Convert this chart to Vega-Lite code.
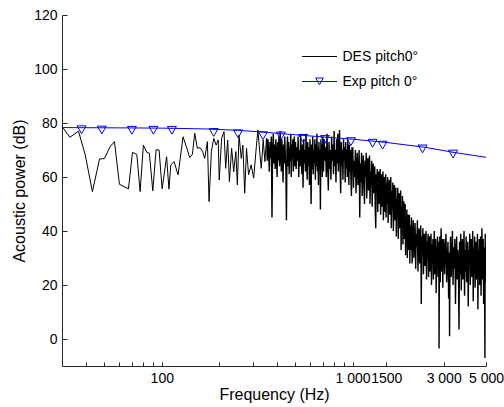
{
"$schema": "https://vega.github.io/schema/vega-lite/v6.json",
"width": 424, "height": 351,
"autosize": {"type": "none"},
"padding": {"left": 62, "top": 15, "right": 18, "bottom": 41},
"background": "white",
"config": {
  "view": {"stroke": null},
  "font": "Liberation Sans",
  "axisX": {"grid": false, "tickSize": -4, "labelPadding": 9, "domainColor": "#262626", "tickColor": "#262626", "labelColor": "black", "labelFontSize": 14, "labelFont": "Liberation Sans", "titleFont": "Liberation Sans", "titleFontSize": 16, "titleFontWeight": "normal", "titleColor": "black", "labelOverlap": false, "labelFlush": false, "labelBound": false, "titleX": 212, "titleY": 33.5, "titleAlign": "center", "titleBaseline": "alphabetic"},
  "axisY": {"grid": false, "tickSize": -5, "labelPadding": 10, "domainColor": "#262626", "tickColor": "#262626", "labelColor": "black", "labelFontSize": 14, "labelFont": "Liberation Sans", "titleFont": "Liberation Sans", "titleFontSize": 16, "titleFontWeight": "normal", "titleColor": "black", "labelOverlap": false, "labelFlush": false, "titleX": -42.5, "titleY": 175.5, "titleAngle": 270, "titleAlign": "center", "titleBaseline": "middle"}
},
"datasets": {
  "des": [
{"f":30.4,"db":78.2},{"f":33,"db":74.7},{"f":36.6,"db":77.0},{"f":39.7,"db":68.2},{"f":43.3,"db":54.6},{"f":47.2,"db":66.7},{"f":50,"db":66.8},{"f":53.6,"db":71.2},{"f":56.5,"db":73.1},{"f":60,"db":57.3},{"f":66.9,"db":55.6},{"f":70.2,"db":69.1},{"f":74,"db":68.4},{"f":77,"db":54.6},{"f":80.1,"db":71.8},{"f":83.5,"db":69.1},{"f":86.1,"db":68.8},{"f":89.7,"db":54.9},{"f":93.4,"db":70.1},{"f":96.8,"db":70.0},{"f":100.4,"db":55.6},{"f":106,"db":67.5},{"f":109,"db":55.5},{"f":111.5,"db":64.5},{"f":116,"db":65.7},{"f":121.7,"db":60.8},{"f":129.3,"db":74.9},{"f":134.5,"db":71.2},{"f":140.2,"db":67.2},{"f":144.7,"db":68.4},{"f":148.9,"db":76.2},{"f":153.6,"db":70.6},{"f":158.7,"db":70.9},{"f":163.9,"db":69.4},{"f":167.9,"db":66.9},{"f":173.4,"db":73.1},{"f":176.9,"db":50.9},{"f":181.9,"db":69.4},{"f":187.3,"db":74.3},{"f":192.7,"db":71.8},{"f":197.6,"db":73.7},{"f":200,"db":58.9},{"f":205.8,"db":74.3},{"f":211.9,"db":76.8},{"f":216.2,"db":63.2},{"f":221.5,"db":73.7},{"f":226.1,"db":58.3},{"f":232.3,"db":70.6},{"f":238.2,"db":62.0},{"f":244.4,"db":69.4},{"f":248.9,"db":57.1},{"f":253.9,"db":75.5},{"f":261,"db":66.9},{"f":266,"db":71.8},{"f":272,"db":54.0},{"f":278,"db":70.6},{"f":285,"db":60.8},{"f":294,"db":64.5},{"f":303,"db":59.6},{"f":313,"db":71.2},{"f":319,"db":77.4},{"f":327,"db":68.2},{"f":332,"db":63.2},{"f":340,"db":73.7},{"f":347,"db":65.7},{"f":354,"db":74.3},
{"f":357,"db":66},{"f":360,"db":74},{"f":363,"db":69},{"f":366,"db":62},{"f":369,"db":73},{"f":372,"db":67},{"f":375,"db":75},{"f":378,"db":45},{"f":381,"db":70},{"f":384,"db":76},{"f":387,"db":65},{"f":390,"db":72},{"f":393,"db":63},{"f":396,"db":74},{"f":399,"db":68},{"f":402,"db":60},{"f":405,"db":73},{"f":408,"db":66},{"f":411,"db":75},{"f":414,"db":64},{"f":417,"db":77},{"f":420,"db":69},{"f":423,"db":62},{"f":426,"db":74},{"f":429,"db":67},{"f":432,"db":58},{"f":435,"db":72},{"f":438,"db":65},{"f":441,"db":75},{"f":444,"db":68},{"f":447,"db":63},{"f":450,"db":44},{"f":453,"db":70},{"f":456,"db":75},{"f":459,"db":64},{"f":462,"db":73},{"f":465,"db":61},{"f":468,"db":71},{"f":471,"db":66},{"f":474,"db":76},{"f":477,"db":60},{"f":480,"db":72},{"f":483,"db":67},{"f":486,"db":74},{"f":489,"db":62},{"f":492,"db":70},{"f":495,"db":75},{"f":498,"db":64},
{"f":502,"db":73},{"f":506,"db":63},{"f":510,"db":71},{"f":514,"db":66},{"f":518,"db":75},{"f":522,"db":60},{"f":526,"db":70},{"f":530,"db":64},{"f":534,"db":76},{"f":538,"db":67},{"f":542,"db":61},{"f":546,"db":72},{"f":550,"db":56},{"f":554,"db":74},{"f":558,"db":65},{"f":562,"db":70},{"f":566,"db":62},{"f":570,"db":76},{"f":574,"db":66},{"f":578,"db":59},{"f":582,"db":73},{"f":586,"db":64},{"f":590,"db":71},{"f":594,"db":57},{"f":598,"db":74},{"f":602,"db":66},{"f":606,"db":50},{"f":610,"db":72},{"f":614,"db":63},{"f":618,"db":75},{"f":622,"db":61},{"f":626,"db":70},{"f":630,"db":65},{"f":634,"db":74},{"f":638,"db":59},{"f":642,"db":72},{"f":646,"db":64},{"f":650,"db":76},{"f":654,"db":62},{"f":658,"db":71},{"f":662,"db":57},{"f":666,"db":73},{"f":670,"db":65},{"f":674,"db":70},{"f":678,"db":48},{"f":682,"db":74},{"f":686,"db":63},{"f":690,"db":72},{"f":694,"db":60},{"f":698,"db":75},
{"f":704,"db":62},{"f":710,"db":74},{"f":716,"db":66},{"f":722,"db":71},{"f":728,"db":60},{"f":734,"db":76},{"f":740,"db":65},{"f":746,"db":55},{"f":752,"db":73},{"f":758,"db":63},{"f":764,"db":70},{"f":770,"db":59},{"f":776,"db":75},{"f":782,"db":66},{"f":788,"db":72},{"f":794,"db":61},{"f":800,"db":77},{"f":806,"db":64},{"f":812,"db":70},{"f":818,"db":58},{"f":824,"db":74},{"f":830,"db":65},{"f":836,"db":76},{"f":842,"db":62},{"f":848,"db":71},{"f":854,"db":77.4},{"f":860,"db":63},{"f":866,"db":54},{"f":872,"db":73},{"f":878,"db":64},{"f":884,"db":70},{"f":890,"db":59},{"f":896,"db":74},{"f":902,"db":66},{"f":908,"db":71},{"f":914,"db":58},{"f":920,"db":73},{"f":926,"db":63},{"f":932,"db":70},{"f":938,"db":60},{"f":944,"db":74},{"f":950,"db":65},{"f":956,"db":57},{"f":962,"db":72},{"f":968,"db":62},{"f":974,"db":70},{"f":980,"db":59},{"f":986,"db":53},{"f":992,"db":71},{"f":998,"db":64},
{"f":1002,"db":71},{"f":1010,"db":56},{"f":1018,"db":66},{"f":1026,"db":60},{"f":1034,"db":70},{"f":1042,"db":54},{"f":1050,"db":64},{"f":1058,"db":69},{"f":1066,"db":57},{"f":1074,"db":62},{"f":1082,"db":70},{"f":1090,"db":45},{"f":1098,"db":65},{"f":1106,"db":58},{"f":1114,"db":69},{"f":1122,"db":53},{"f":1130,"db":63},{"f":1138,"db":68},{"f":1146,"db":56},{"f":1154,"db":50},{"f":1162,"db":66},{"f":1170,"db":60},{"f":1178,"db":69},{"f":1186,"db":52},{"f":1194,"db":63},{"f":1202,"db":67},{"f":1210,"db":55},{"f":1218,"db":61},{"f":1226,"db":68},{"f":1234,"db":50},{"f":1242,"db":62},{"f":1250,"db":57},{"f":1258,"db":66},{"f":1266,"db":49},{"f":1274,"db":60},{"f":1282,"db":65},{"f":1290,"db":54},{"f":1298,"db":58},{"f":1306,"db":64},{"f":1314,"db":48},{"f":1322,"db":41},{"f":1330,"db":61},{"f":1338,"db":56},{"f":1346,"db":63},{"f":1354,"db":47},{"f":1362,"db":58},{"f":1370,"db":62},{"f":1378,"db":50},{"f":1386,"db":55},{"f":1394,"db":63},{"f":1402,"db":46},{"f":1410,"db":57},{"f":1418,"db":61},{"f":1426,"db":49},{"f":1434,"db":54},{"f":1442,"db":62},{"f":1450,"db":44},{"f":1458,"db":56},{"f":1466,"db":60},{"f":1474,"db":47},{"f":1482,"db":53},{"f":1490,"db":61},{"f":1498,"db":45},
{"f":1505,"db":58},{"f":1515,"db":50},{"f":1525,"db":60},{"f":1535,"db":43},{"f":1545,"db":54},{"f":1555,"db":59},{"f":1565,"db":46},{"f":1575,"db":52},{"f":1585,"db":60},{"f":1595,"db":41},{"f":1605,"db":55},{"f":1615,"db":48},{"f":1625,"db":58},{"f":1635,"db":40},{"f":1645,"db":51},{"f":1655,"db":57},{"f":1665,"db":44},{"f":1675,"db":49},{"f":1685,"db":56},{"f":1695,"db":38},{"f":1705,"db":52},{"f":1715,"db":46},{"f":1725,"db":56},{"f":1735,"db":37},{"f":1745,"db":48},{"f":1755,"db":54},{"f":1765,"db":41},{"f":1775,"db":45},{"f":1785,"db":55},{"f":1795,"db":33},{"f":1805,"db":49},{"f":1815,"db":42},{"f":1825,"db":53},{"f":1835,"db":35},{"f":1845,"db":45},{"f":1855,"db":51},{"f":1865,"db":37},{"f":1875,"db":43},{"f":1885,"db":50},{"f":1895,"db":31},{"f":1905,"db":44},{"f":1915,"db":38},{"f":1925,"db":48},{"f":1935,"db":30},{"f":1945,"db":41},{"f":1955,"db":46},{"f":1965,"db":33},{"f":1975,"db":38},{"f":1985,"db":46},{"f":1995,"db":28},
{"f":2005,"db":42},{"f":2020,"db":33},{"f":2035,"db":45},{"f":2050,"db":28},{"f":2065,"db":38},{"f":2080,"db":44},{"f":2095,"db":30},{"f":2110,"db":36},{"f":2125,"db":43},{"f":2140,"db":26},{"f":2155,"db":39},{"f":2170,"db":34},{"f":2185,"db":44},{"f":2200,"db":25},{"f":2215,"db":37},{"f":2230,"db":41},{"f":2245,"db":28},{"f":2260,"db":35},{"f":2275,"db":42},{"f":2290,"db":13},{"f":2305,"db":38},{"f":2320,"db":31},{"f":2335,"db":41},{"f":2350,"db":24},{"f":2365,"db":35},{"f":2380,"db":39},{"f":2395,"db":27},{"f":2410,"db":33},{"f":2425,"db":40},{"f":2440,"db":22},{"f":2455,"db":36},{"f":2470,"db":30},{"f":2485,"db":39},{"f":2500,"db":23},{"f":2515,"db":34},{"f":2530,"db":38},{"f":2545,"db":25},{"f":2560,"db":31},{"f":2575,"db":39},{"f":2590,"db":20},{"f":2605,"db":35},{"f":2620,"db":28},{"f":2635,"db":37},{"f":2650,"db":22},{"f":2665,"db":33},{"f":2680,"db":40},{"f":2695,"db":24},{"f":2710,"db":30},{"f":2725,"db":37},{"f":2740,"db":17},{"f":2755,"db":34},{"f":2770,"db":27},{"f":2785,"db":38},{"f":2800,"db":23},{"f":2815,"db":31},{"f":2830,"db":36},{"f":2838,"db":-3.5},{"f":2850,"db":29},{"f":2865,"db":38},{"f":2880,"db":21},{"f":2895,"db":33},{"f":2910,"db":41},{"f":2925,"db":25},{"f":2940,"db":30},{"f":2955,"db":37},{"f":2970,"db":19},{"f":2985,"db":34},{"f":2995,"db":27},
{"f":3010,"db":37},{"f":3035,"db":24},{"f":3060,"db":33},{"f":3085,"db":39},{"f":3110,"db":21},{"f":3135,"db":29},{"f":3160,"db":36},{"f":3185,"db":15},{"f":3210,"db":32},{"f":3222,"db":1},{"f":3235,"db":27},{"f":3260,"db":38},{"f":3285,"db":23},{"f":3310,"db":31},{"f":3335,"db":40},{"f":3360,"db":20},{"f":3385,"db":34},{"f":3410,"db":26},{"f":3435,"db":37},{"f":3460,"db":13},{"f":3485,"db":30},{"f":3510,"db":38},{"f":3535,"db":22},{"f":3560,"db":33},{"f":3585,"db":27},{"f":3610,"db":3.5},{"f":3635,"db":36},{"f":3660,"db":24},{"f":3685,"db":39},{"f":3710,"db":18},{"f":3735,"db":31},{"f":3760,"db":37},{"f":3785,"db":22},{"f":3810,"db":28},{"f":3835,"db":40},{"f":3860,"db":16},{"f":3885,"db":33},{"f":3910,"db":25},{"f":3935,"db":38},{"f":3960,"db":21},{"f":3985,"db":30},{"f":4010,"db":36},{"f":4035,"db":12},{"f":4060,"db":33},{"f":4085,"db":27},{"f":4110,"db":39},{"f":4135,"db":20},{"f":4160,"db":31},{"f":4185,"db":37},{"f":4210,"db":23},{"f":4235,"db":29},{"f":4260,"db":40},{"f":4285,"db":14},{"f":4310,"db":34},{"f":4335,"db":24},{"f":4360,"db":38},{"f":4385,"db":19},{"f":4410,"db":32},{"f":4435,"db":36},{"f":4460,"db":22},{"f":4485,"db":28},{"f":4510,"db":39},{"f":4535,"db":11},{"f":4560,"db":33},{"f":4585,"db":25},{"f":4610,"db":37},{"f":4635,"db":20},{"f":4660,"db":30},{"f":4685,"db":38},{"f":4710,"db":16},{"f":4735,"db":32},{"f":4760,"db":41},{"f":4785,"db":22},{"f":4810,"db":27},{"f":4835,"db":37},{"f":4860,"db":13},{"f":4885,"db":34},{"f":4910,"db":26},{"f":4935,"db":-7},{"f":4950,"db":39},{"f":4965,"db":21},{"f":4980,"db":35},{"f":5000,"db":28}
  ],
  "fit": [
{"f":30,"db":78.3},{"f":60,"db":78.2},{"f":100,"db":78.1},{"f":170,"db":77.8},{"f":250,"db":77.3},{"f":340,"db":76.6},{"f":550,"db":75.4},{"f":1000,"db":74.0},{"f":1500,"db":72.8},{"f":2400,"db":71.0},{"f":3400,"db":69.1},{"f":5000,"db":67.3}
  ],
  "exp": [
{"f":38,"db":77.5},{"f":48.5,"db":77.4},{"f":69.7,"db":77.3},{"f":90.4,"db":77.3},{"f":113,"db":77.3},{"f":187,"db":76.5},{"f":251,"db":76.0},{"f":339,"db":75.3},{"f":421,"db":75.2},{"f":551,"db":74.3},{"f":716,"db":73.9},{"f":980,"db":73.1},{"f":1273,"db":72.5},{"f":1436,"db":71.8},{"f":2325,"db":70.4},{"f":3362,"db":68.5}
  ],
  "leg": [{"series":"DES pitch0°"},{"series":"Exp pitch 0°"}]
},
"layer": [
  {
    "data": {"name": "des"},
    "transform": [{"filter": "datum.f <= 354"}],
    "mark": {"type": "line", "color": "black", "strokeWidth": 1, "clip": true},
    "encoding": {
      "x": {"field": "f", "type": "quantitative", "title": "Frequency (Hz)",
        "scale": {"type": "log", "domain": [30, 5000], "nice": false},
        "axis": {"values": [40,50,60,70,80,90,100,200,300,400,500,600,700,800,900,1000,1500,3000,5000],
          "labelExpr": "datum.value == 100 ? '100' : datum.value == 1000 ? '1 000' : datum.value == 1500 ? '1500' : datum.value == 3000 ? '3 000' : datum.value == 5000 ? '5 000' : ''"}},
      "y": {"field": "db", "type": "quantitative", "title": "Acoustic power (dB)",
        "scale": {"domain": [-10, 120], "nice": false, "zero": false},
        "axis": {"values": [0, 20, 40, 60, 80, 100, 120]}}
    }
  },
  {
    "data": {"name": "des"},
    "transform": [{"filter": "datum.f >= 354"}],
    "mark": {"type": "line", "color": "black", "strokeWidth": 1.4, "clip": true},
    "encoding": {
      "x": {"field": "f", "type": "quantitative", "title": "Frequency (Hz)"},
      "y": {"field": "db", "type": "quantitative", "title": "Acoustic power (dB)"}
    }
  },
  {
    "data": {"name": "fit"},
    "mark": {"type": "line", "color": "#0000ff", "strokeWidth": 1},
    "encoding": {
      "x": {"field": "f", "type": "quantitative", "title": "Frequency (Hz)"},
      "y": {"field": "db", "type": "quantitative", "title": "Acoustic power (dB)"}
    }
  },
  {
    "data": {"name": "exp"},
    "mark": {"type": "point", "shape": "triangle-down", "size": 81, "color": "#0000ff", "filled": false, "strokeWidth": 1, "opacity": 1},
    "encoding": {
      "x": {"field": "f", "type": "quantitative", "title": "Frequency (Hz)"},
      "y": {"field": "db", "type": "quantitative", "title": "Acoustic power (dB)"}
    }
  },
  {
    "data": {"name": "leg"},
    "mark": {"type": "point", "opacity": 0, "strokeWidth": 1, "filled": false},
    "encoding": {
      "color": {"field": "series", "type": "nominal",
        "scale": {"domain": ["DES pitch0°", "Exp pitch 0°"], "range": ["black", "#0000ff"]},
        "legend": {"title": null, "orient": "none", "legendX": 239.5, "legendY": 23.5, "symbolSize": 1225, "symbolStrokeWidth": 1, "symbolOpacity": 1, "symbolFillColor": "transparent", "labelFontSize": 14, "labelFont": "Liberation Sans", "labelColor": "black", "labelOffset": 5, "rowPadding": -5.5, "padding": 0}},
      "shape": {"field": "series", "type": "nominal",
        "scale": {"domain": ["DES pitch0°", "Exp pitch 0°"], "range": ["M-1,0H1", "M-1,0H1M-0.22,-0.2H0.22L0,0.18Z"]},
        "legend": {"title": null, "orient": "none", "legendX": 239.5, "legendY": 23.5, "symbolSize": 1225, "symbolStrokeWidth": 1, "symbolOpacity": 1, "symbolFillColor": "transparent", "labelFontSize": 14, "labelFont": "Liberation Sans", "labelColor": "black", "labelOffset": 5, "rowPadding": -5.5, "padding": 0}}
    }
  }
]
}
